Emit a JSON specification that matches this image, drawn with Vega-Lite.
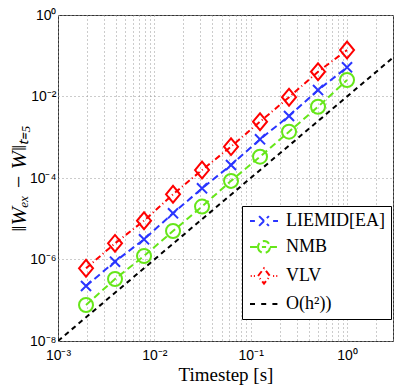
{
  "$schema": "https://vega.github.io/schema/vega-lite/v6.json",
  "width": 335,
  "height": 326,
  "autosize": {"type": "none"},
  "padding": {"left": 58, "top": 15, "right": 6, "bottom": 46},
  "background": "white",
  "config": {"view": {"stroke": "#333", "strokeWidth": 1}},
  "data": {
    "values": [
      {"t": 0.001953125, "err": 2.24e-7, "series": "LIEMID[EA]"},
      {"t": 0.00390625, "err": 8.85e-7, "series": "LIEMID[EA]"},
      {"t": 0.0078125, "err": 3.13e-6, "series": "LIEMID[EA]"},
      {"t": 0.015625, "err": 1.36e-5, "series": "LIEMID[EA]"},
      {"t": 0.03125, "err": 5.57e-5, "series": "LIEMID[EA]"},
      {"t": 0.0625, "err": 2.08e-4, "series": "LIEMID[EA]"},
      {"t": 0.125, "err": 8.9e-4, "series": "LIEMID[EA]"},
      {"t": 0.25, "err": 3.32e-3, "series": "LIEMID[EA]"},
      {"t": 0.5, "err": 0.0144, "series": "LIEMID[EA]"},
      {"t": 1, "err": 0.052, "series": "LIEMID[EA]"},
      {"t": 0.001953125, "err": 7.64e-8, "series": "NMB"},
      {"t": 0.00390625, "err": 3.32e-7, "series": "NMB"},
      {"t": 0.0078125, "err": 1.22e-6, "series": "NMB"},
      {"t": 0.015625, "err": 5.0e-6, "series": "NMB"},
      {"t": 0.03125, "err": 1.99e-5, "series": "NMB"},
      {"t": 0.0625, "err": 8.5e-5, "series": "NMB"},
      {"t": 0.125, "err": 3.33e-4, "series": "NMB"},
      {"t": 0.25, "err": 1.37e-3, "series": "NMB"},
      {"t": 0.5, "err": 5.6e-3, "series": "NMB"},
      {"t": 1, "err": 0.0254, "series": "NMB"},
      {"t": 0.001953125, "err": 6.08e-7, "series": "VLV"},
      {"t": 0.00390625, "err": 2.49e-6, "series": "VLV"},
      {"t": 0.0078125, "err": 8.97e-6, "series": "VLV"},
      {"t": 0.015625, "err": 3.98e-5, "series": "VLV"},
      {"t": 0.03125, "err": 1.57e-4, "series": "VLV"},
      {"t": 0.0625, "err": 5.88e-4, "series": "VLV"},
      {"t": 0.125, "err": 2.41e-3, "series": "VLV"},
      {"t": 0.25, "err": 9.6e-3, "series": "VLV"},
      {"t": 0.5, "err": 0.0406, "series": "VLV"},
      {"t": 1, "err": 0.138, "series": "VLV"},
      {"t": 0.001, "err": 1e-8, "series": "O(h²))"},
      {"t": 3, "err": 0.09, "series": "O(h²))"}
    ]
  },
  "encoding": {
    "x": {
      "field": "t",
      "type": "quantitative",
      "scale": {"type": "log", "domain": [0.001, 3], "nice": false},
      "axis": {
        "values": [0.001, 0.002, 0.003, 0.004, 0.005, 0.006, 0.007, 0.008, 0.009, 0.01, 0.02, 0.03, 0.04, 0.05, 0.06, 0.07, 0.08, 0.09, 0.1, 0.2, 0.3, 0.4, 0.5, 0.6, 0.7, 0.8, 0.9, 1, 2, 3],
        "labelExpr": "datum.value == 0.001 ? '10⁻³' : datum.value == 0.01 ? '10⁻²' : datum.value == 0.1 ? '10⁻¹' : datum.value == 1 ? '10⁰' : ''",
        "grid": true,
        "gridDash": [1, 3],
        "gridColor": "#999999",
        "gridWidth": 1,
        "domain": false,
        "ticks": false,
        "labelFont": "Liberation Sans",
        "labelFontSize": 14,
        "labelColor": "#000",
        "labelPadding": 7,
        "labelFlush": false,
        "labelOverlap": false,
        "title": "Timestep [s]",
        "titleFont": "Liberation Serif",
        "titleFontSize": 19,
        "titleFontWeight": "normal",
        "titleColor": "#000",
        "titleY": 39,
        "titleBaseline": "alphabetic"
      }
    },
    "y": {
      "field": "err",
      "type": "quantitative",
      "scale": {"type": "log", "domain": [1e-8, 1], "nice": false},
      "axis": {
        "values": [1e-8, 1e-6, 1e-4, 1e-2, 1],
        "labelExpr": "datum.value < 1e-7 ? '10⁻⁸' : datum.value < 1e-5 ? '10⁻⁶' : datum.value < 1e-3 ? '10⁻⁴' : datum.value < 0.1 ? '10⁻²' : '10⁰'",
        "grid": true,
        "gridDash": [1, 3],
        "gridColor": "#999999",
        "gridWidth": 1,
        "domain": false,
        "ticks": false,
        "labelFont": "Liberation Sans",
        "labelFontSize": 14,
        "labelColor": "#000",
        "labelPadding": 2,
        "labelFlush": false,
        "labelOverlap": false,
        "title": "‖Wₑₓ − W‖ₜ₌₅",
        "titleFont": "Liberation Serif",
        "titleFontStyle": "italic",
        "titleFontSize": 22,
        "titleFontWeight": "normal",
        "titleColor": "#000",
        "titleX": -33,
        "titleBaseline": "alphabetic"
      }
    },
    "color": {
      "field": "series",
      "type": "nominal",
      "scale": {
        "domain": ["LIEMID[EA]", "NMB", "VLV", "O(h²))"],
        "range": ["#2a35ff", "#66e619", "#ff0000", "#000000"]
      },
      "legend": {
        "orient": "none",
        "legendX": 184,
        "legendY": 191,
        "title": null,
        "fillColor": "white",
        "strokeColor": "#000",
        "padding": 6,
        "symbolSize": 196,
        "symbolOffset": 7,
        "symbolDash": [1, 0],
        "labelOffset": 13,
        "labelFont": "Liberation Serif",
        "labelFontSize": 18,
        "labelColor": "#000",
        "rowPadding": 7,
        "labelLimit": 200,
        "encode": {
          "symbols": {
            "update": {
              "shape": {"signal": "datum.value === 'LIEMID[EA]' ? 'M-2,0L-1.3,0M1.3,0L2,0M-0.7,-0.7L0.7,0.7M-0.7,0.7L0.7,-0.7' : datum.value === 'NMB' ? 'M-2,0L-0.85,0M0.85,0L2,0M-0.3,0L0.3,0M-0.85,0A0.85,0.85,0,1,0,0.85,0A0.85,0.85,0,1,0,-0.85,0' : datum.value === 'VLV' ? 'M-1.9,0L-1.75,0M-1.45,0L-1.3,0M1.3,0L1.45,0M1.75,0L1.9,0M-0.85,0L0,-1.1L0.85,0L0,1.1Z' : 'M-2,0L-1.2,0M-0.4,0L0.4,0M1.2,0L2,0'"},
              "fill": {"value": "transparent"},
              "strokeDash": {"value": [1, 0]},
              "strokeWidth": {"value": 2},
              "opacity": {"value": 1}
            }
          }
        }
      }
    }
  },
  "layer": [
    {
      "mark": {"type": "line", "strokeWidth": 2, "clip": true},
      "encoding": {
        "strokeDash": {
          "field": "series",
          "type": "nominal",
          "scale": {
            "domain": ["LIEMID[EA]", "NMB", "VLV", "O(h²))"],
            "range": [[7, 4], [7, 4], [6, 3, 1, 3], [5, 4]]
          },
          "legend": null
        }
      }
    },
    {
      "transform": [{"filter": "datum.series !== 'O(h²))'"}],
      "mark": {"type": "point", "filled": false, "strokeWidth": 2, "size": 196, "opacity": 1},
      "encoding": {
        "shape": {
          "field": "series",
          "type": "nominal",
          "scale": {
            "domain": ["LIEMID[EA]", "NMB", "VLV"],
            "range": ["M-0.72,-0.72L0.72,0.72M-0.72,0.72L0.72,-0.72", "circle", "M-1,0L0,-1.2L1,0L0,1.2Z"]
          },
          "legend": null
        }
      }
    }
  ]
}
